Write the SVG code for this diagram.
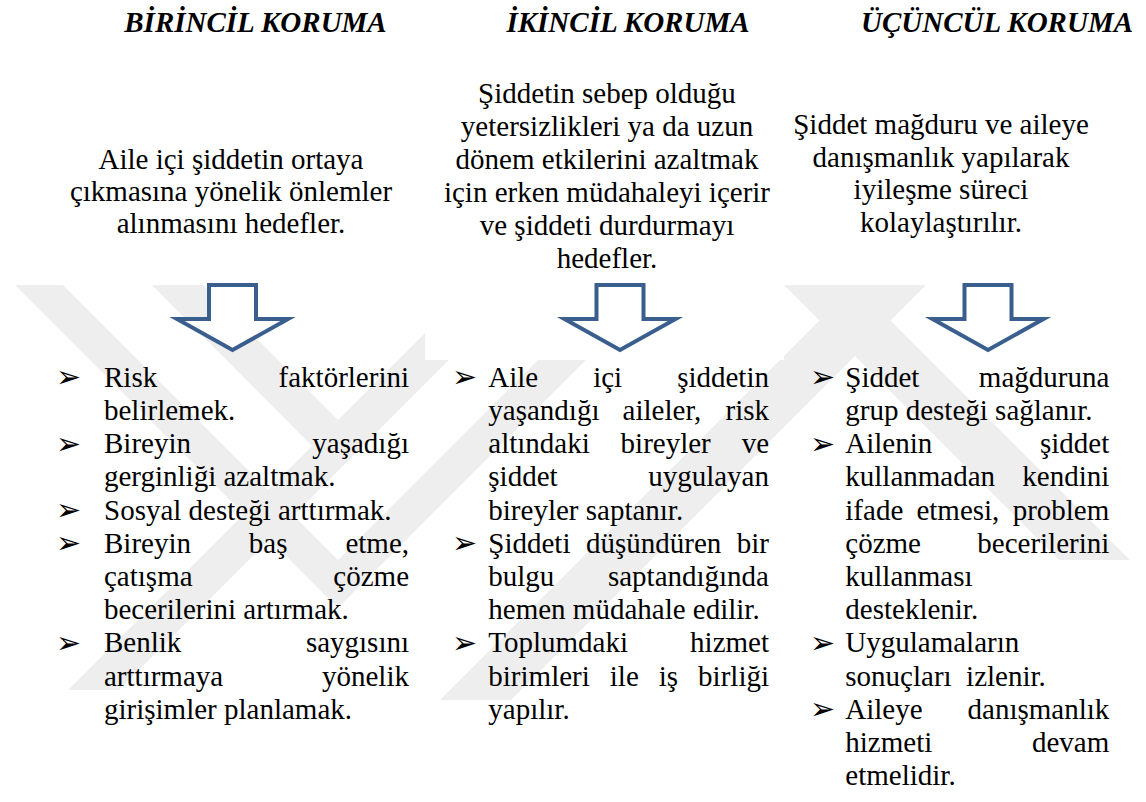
<svg xmlns="http://www.w3.org/2000/svg" xmlns:xlink="http://www.w3.org/1999/xlink" width="1146" height="802" viewBox="0 0 1146 802">
<defs>
<style>
.t{font-size:29px;fill:#000}
.h{font-weight:bold;font-style:italic}
.c{text-anchor:middle}
.e{text-anchor:end}
.b{font-size:30px;fill:#000}
.wm{fill:#eeeeee}
.arr{fill:#fff;stroke:#3a5e8e;stroke-width:4;stroke-miterlimit:10}
</style>
<path id="arrow" class="arr" d="M-23.5,0 H23.5 V34 H55.5 L0,65 L-55.5,34 H-23.5 Z"/>
</defs>
<rect width="1146" height="802" fill="#fff"/>
<g id="watermark">
<polygon class="wm" points="15,285 63,285 338,560 613,285 661,285 338,608"/>
<polygon class="wm" points="68,690 119,690 524,285 473,285"/>
<polygon class="wm" points="152,285 203,285 338,420 312,446"/>
<polygon class="wm" points="855,285 926,285 511,700 440,700"/>
<polygon class="wm" points="784,285 855,285 1130,560 1059,560"/>
<rect x="425" y="270" width="359" height="90" fill="#fff"/>
</g>
<g font-family="Liberation Serif, DejaVu Serif, serif">
<g id="titles">
<text class="t h c" x="255.5" y="32">BİRİNCİL KORUMA</text>
<text class="t h c" x="628" y="32">İKİNCİL KORUMA</text>
<text class="t h c" x="997" y="32">ÜÇÜNCÜL KORUMA</text>
</g>
<g id="desc1">
<text class="t c" x="231" y="169">Aile içi şiddetin ortaya</text>
<text class="t c" x="231" y="201">çıkmasına yönelik önlemler</text>
<text class="t c" x="231" y="233">alınmasını hedefler.</text>
</g>
<g id="desc2">
<text class="t c" x="607" y="103">Şiddetin sebep olduğu</text>
<text class="t c" x="607" y="136">yetersizlikleri ya da uzun</text>
<text class="t c" x="607" y="169">dönem etkilerini azaltmak</text>
<text class="t c" x="607" y="202">için erken müdahaleyi içerir</text>
<text class="t c" x="607" y="235">ve şiddeti durdurmayı</text>
<text class="t c" x="607" y="268">hedefler.</text>
</g>
<g id="desc3">
<text class="t c" x="941" y="134">Şiddet mağduru ve aileye</text>
<text class="t c" x="941" y="166.5">danışmanlık yapılarak</text>
<text class="t c" x="941" y="199">iyileşme süreci</text>
<text class="t c" x="941" y="231.5">kolaylaştırılır.</text>
</g>
</g>
<g id="connectors">
<use xlink:href="#arrow" x="232.5" y="285"/>
<use xlink:href="#arrow" x="620" y="285"/>
<use xlink:href="#arrow" x="988" y="285"/>
</g>
<g id="bullets" font-family="DejaVu Sans, sans-serif">
<text class="b" x="56" y="387">➢</text>
<text class="b" x="56" y="453.5">➢</text>
<text class="b" x="56" y="520">➢</text>
<text class="b" x="56" y="553">➢</text>
<text class="b" x="56" y="652.5">➢</text>
<text class="b" x="452" y="387">➢</text>
<text class="b" x="452" y="553">➢</text>
<text class="b" x="452" y="652.5">➢</text>
<text class="b" x="810" y="387">➢</text>
<text class="b" x="810" y="453.5">➢</text>
<text class="b" x="810" y="652.5">➢</text>
<text class="b" x="810" y="719">➢</text>
</g>
<g font-family="Liberation Serif, DejaVu Serif, serif">
<g id="list1">
<text class="t" x="104" y="386.7">Risk</text><text class="t e" x="409" y="386.7">faktörlerini</text>
<text class="t" x="104" y="419.9">belirlemek.</text>
<text class="t" x="104" y="453.1">Bireyin</text><text class="t e" x="409" y="453.1">yaşadığı</text>
<text class="t" x="104" y="486.3">gerginliği azaltmak.</text>
<text class="t" x="104" y="519.5">Sosyal desteği arttırmak.</text>
<text class="t" x="104" y="552.7">Bireyin</text><text class="t" x="248.8" y="552.7">baş</text><text class="t e" x="409" y="552.7">etme,</text>
<text class="t" x="104" y="585.9">çatışma</text><text class="t e" x="409" y="585.9">çözme</text>
<text class="t" x="104" y="619.1">becerilerini artırmak.</text>
<text class="t" x="104" y="652.3">Benlik</text><text class="t e" x="409" y="652.3">saygısını</text>
<text class="t" x="104" y="685.5">arttırmaya</text><text class="t e" x="409" y="685.5">yönelik</text>
<text class="t" x="104" y="718.7">girişimler planlamak.</text>
</g>
<g id="list2">
<text class="t" x="488.3" y="386.7">Aile</text><text class="t" x="593.2" y="386.7">içi</text><text class="t e" x="769" y="386.7">şiddetin</text>
<text class="t" x="488.3" y="419.9">yaşandığı</text><text class="t" x="622.6" y="419.9">aileler,</text><text class="t e" x="769" y="419.9">risk</text>
<text class="t" x="488.3" y="453.1">altındaki</text><text class="t" x="620.6" y="453.1">bireyler</text><text class="t e" x="769" y="453.1">ve</text>
<text class="t" x="488.3" y="486.3">şiddet</text><text class="t e" x="769" y="486.3">uygulayan</text>
<text class="t" x="488.3" y="519.5">bireyler saptanır.</text>
<text class="t" x="488.3" y="552.7">Şiddeti</text><text class="t" x="586" y="552.7">düşündüren</text><text class="t e" x="769" y="552.7">bir</text>
<text class="t" x="488.3" y="585.9">bulgu</text><text class="t e" x="769" y="585.9">saptandığında</text>
<text class="t" x="488.3" y="619.1">hemen müdahale edilir.</text>
<text class="t" x="488.3" y="652.3">Toplumdaki</text><text class="t e" x="769" y="652.3">hizmet</text>
<text class="t" x="488.3" y="685.5">birimleri</text><text class="t" x="609.8" y="685.5">ile</text><text class="t" x="658.8" y="685.5">iş</text><text class="t e" x="769" y="685.5">birliği</text>
<text class="t" x="488.3" y="718.7">yapılır.</text>
</g>
<g id="list3">
<text class="t" x="845.3" y="386.7">Şiddet</text><text class="t e" x="1109.3" y="386.7">mağduruna</text>
<text class="t" x="845.3" y="419.9">grup desteği sağlanır.</text>
<text class="t" x="845.3" y="453.1">Ailenin</text><text class="t e" x="1109.3" y="453.1">şiddet</text>
<text class="t" x="845.3" y="486.3">kullanmadan</text><text class="t e" x="1109.3" y="486.3">kendini</text>
<text class="t" x="845.3" y="519.5">ifade</text><text class="t" x="916.4" y="519.5">etmesi,</text><text class="t e" x="1109.3" y="519.5">problem</text>
<text class="t" x="845.3" y="552.7">çözme</text><text class="t e" x="1109.3" y="552.7">becerilerini</text>
<text class="t" x="845.3" y="585.9">kullanması</text>
<text class="t" x="845.3" y="619.1">desteklenir.</text>
<text class="t" x="845.3" y="652.3">Uygulamaların</text>
<text class="t" x="845.3" y="685.5" xml:space="preserve">sonuçları  izlenir.</text>
<text class="t" x="845.3" y="718.7">Aileye</text><text class="t e" x="1109.3" y="718.7">danışmanlık</text>
<text class="t" x="845.3" y="751.9">hizmeti</text><text class="t e" x="1109.3" y="751.9">devam</text>
<text class="t" x="845.3" y="785.1">etmelidir.</text>
</g>
</g>
</svg>
